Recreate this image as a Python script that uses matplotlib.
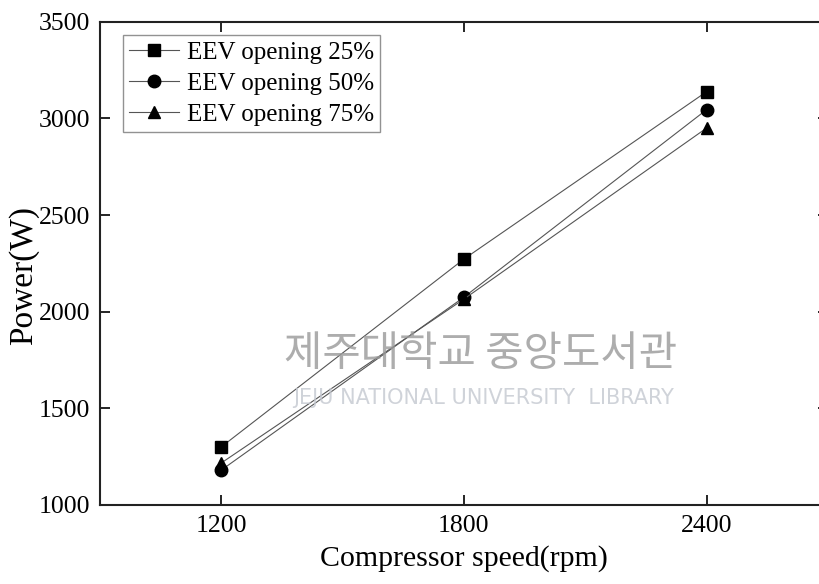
import matplotlib
matplotlib.use("Agg")
import matplotlib.pyplot as plt

# data
speed = [1200, 1800, 2400]
power_25 = [1300, 2272, 3138]
power_50 = [1180, 2075, 3045]
power_75 = [1217, 2065, 2950]
labels = ["EEV opening 25%", "EEV opening 50%", "EEV opening 75%"]
x_ticks = [1200, 1800, 2400]
y_ticks = [1000, 1500, 2000, 2500, 3000, 3500]

plt.rcParams['font.family'] = ['Liberation Serif', 'DejaVu Serif']

fig = plt.figure(figsize=(8.19, 5.84), dpi=100)
ax = fig.add_axes([0.1219, 0.1353, 0.889, 0.8275])

line_kw = dict(color='#555555', lw=0.8, markerfacecolor='black',
               markeredgecolor='black', markersize=9, zorder=5)
ax.plot(speed, power_25, marker='s', label=labels[0], **line_kw)
ax.plot(speed, power_50, marker='o', label=labels[1], **line_kw)
ax.plot(speed, power_75, marker='^', label=labels[2], **line_kw)

ax.set_xlim(900, 2700)
ax.set_ylim(1000, 3500)
ax.set_xticks(x_ticks)
ax.set_yticks(y_ticks)
ax.tick_params(direction='in', length=7, width=1.2, labelsize=18.5,
               top=True, right=True, pad=7)
for s in ax.spines.values():
    s.set_linewidth(1.5)
    s.set_color('#222222')

ax.set_xlabel('Compressor speed(rpm)', fontsize=21.5, labelpad=6)
ax.set_ylabel('Power(W)', fontsize=24, labelpad=0)
ax.yaxis.set_label_coords(-0.083, 0.475)

leg = ax.legend(loc='upper left', bbox_to_anchor=(0.032, 0.972),
                fontsize=18, frameon=True, fancybox=False,
                borderpad=0.25, labelspacing=0.33, handlelength=2.0,
                handletextpad=0.3, borderaxespad=0)
leg.get_frame().set_edgecolor('#777777')
leg.get_frame().set_linewidth(1.0)

# library watermark
fig.text(0.587, 0.393, '제주대학교 중앙도서관', fontsize=30,
         family=['Noto Sans CJK KR'], color='#999999', alpha=0.8,
         ha='center', va='center', zorder=0)
fig.text(0.59, 0.318, 'JEJU NATIONAL UNIVERSITY  LIBRARY', fontsize=15,
         family=['DejaVu Sans'], color='#c4c8d0', alpha=0.8,
         ha='center', va='center', zorder=0)

fig.savefig('out.png', dpi=100)
